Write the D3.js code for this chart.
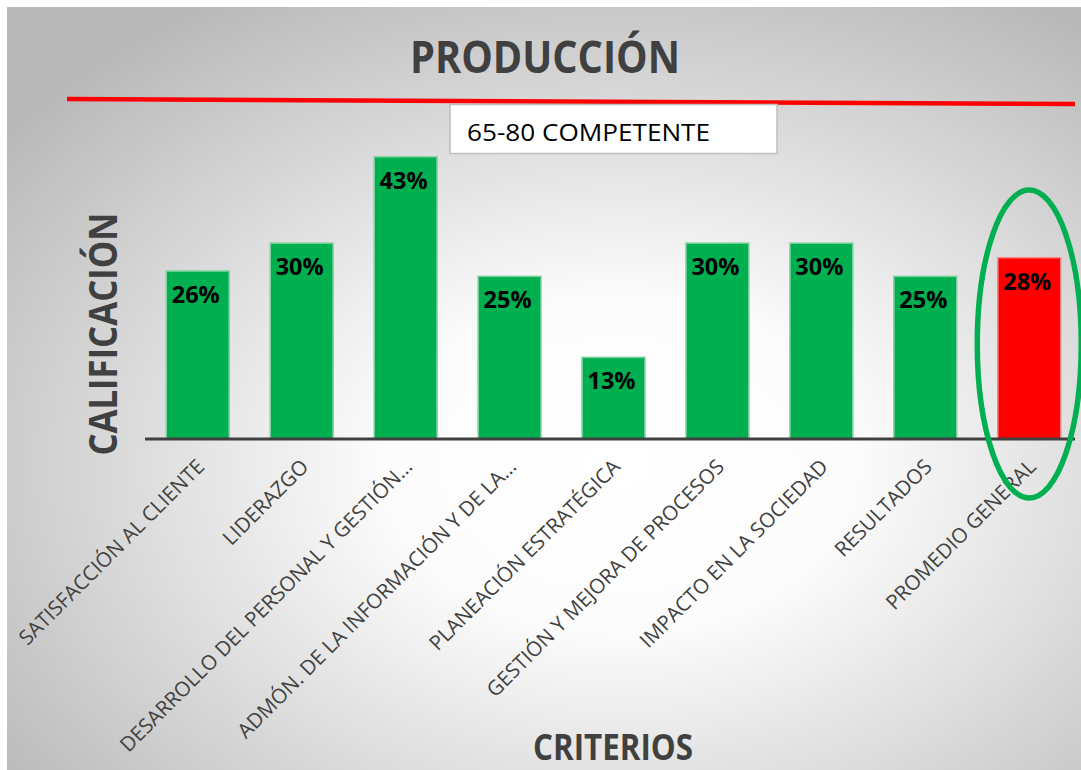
<!DOCTYPE html>
<html>
<head>
<meta charset="utf-8">
<title>PRODUCCIÓN</title>
<style>
body { margin: 0; background: #fff; }
svg { display: block; font-family: "Open Sans", sans-serif; }
.bar { stroke-width: 1.5; }
.val { font-weight: bold; font-size: 23.5px; fill: #000; }
.cat { font-family: "Open Sans", sans-serif; font-size: 20.5px; fill: #404040; }
.ttl { font-weight: bold; fill: #404040; }
</style>
</head>
<body>
<div id="chart"></div>
<script src="https://d3js.org/d3.v7.min.js"></script>
<script>

// values
const categories = [
	'SATISFACCIÓN AL CLIENTE',
	'LIDERAZGO',
	'DESARROLLO DEL PERSONAL Y GESTIÓN…',
	'ADMÓN. DE LA INFORMACIÓN Y DE LA…',
	'PLANEACIÓN ESTRATÉGICA',
	'GESTIÓN Y MEJORA DE PROCESOS',
	'IMPACTO EN LA SOCIEDAD',
	'RESULTADOS',
	'PROMEDIO GENERAL'
];
const values = [0.256, 0.298, 0.428, 0.248, 0.126, 0.298, 0.298, 0.248, 0.276];
const noteText = '65-80 COMPETENTE';

const width = 1081, height = 770;

const svg = d3.select('#chart').append('svg')
	.attr('width', width)
	.attr('height', height);

// radial grey background like the Excel chart area
const grad = svg.append('defs').append('radialGradient')
	.attr('id', 'bg')
	.attr('cx', '0.57').attr('cy', '0.6').attr('r', '0.72');
grad.append('stop').attr('offset', '0%').attr('stop-color', '#ffffff');
grad.append('stop').attr('offset', '30%').attr('stop-color', '#fcfcfc');
grad.append('stop').attr('offset', '100%').attr('stop-color', '#b8b8b8');

svg.append('rect')
	.attr('x', 7).attr('y', 7)
	.attr('width', width - 7).attr('height', height - 7)
	.attr('fill', 'url(#bg)');

// scales
const x = d3.scaleBand()
	.domain(categories)
	.range([145.5, 1081.5])
	.paddingInner(0.395)
	.paddingOuter(0.2);

const y = d3.scaleLinear()
	.domain([0, 0.5])
	.range([439, 107]);

const fmt = d3.format('.0%');
const last = categories.length - 1;

// bars
svg.selectAll('.bar')
	.data(values)
	.join('rect')
	.attr('class', 'bar')
	.attr('x', (d, i) => x(categories[i]))
	.attr('y', d => y(d) + 2)
	.attr('width', x.bandwidth())
	.attr('height', d => y(0) - y(d) - 2)
	.attr('fill', (d, i) => i === last ? '#ff0000' : '#00b050')
	.attr('stroke', (d, i) => i === last ? '#ff8080' : '#7dd3a0');

// value labels inside the bar top
svg.selectAll('.val')
	.data(values)
	.join('text')
	.attr('class', 'val')
	.attr('x', (d, i) => x(categories[i]) + x.bandwidth() / 2 - 2)
	.attr('y', d => y(d) + 34)
	.attr('text-anchor', 'middle')
	.text(d => fmt(d));

// x axis
const xAxis = svg.append('g')
	.attr('transform', `translate(0,${y(0)})`)
	.call(d3.axisBottom(x).tickSize(0).tickPadding(0))
	.attr('font-family', null)
	.attr('font-size', null);
xAxis.select('.domain')
	.attr('d', 'M145,0H1075')
	.attr('stroke', '#404040')
	.attr('stroke-width', 3);
xAxis.selectAll('.tick text')
	.attr('class', 'cat')
	.attr('fill', null)
	.attr('text-anchor', 'end')
	.attr('dy', null)
	.attr('transform', 'translate(8,29) rotate(-45)');

// titles
svg.append('text')
	.attr('class', 'ttl')
	.attr('x', 545).attr('y', 73)
	.attr('text-anchor', 'middle')
	.attr('font-size', 44)
	.attr('textLength', 270)
	.attr('lengthAdjust', 'spacingAndGlyphs')
	.text('PRODUCCIÓN');

svg.append('text')
	.attr('class', 'ttl')
	.attr('transform', 'translate(117,334) rotate(-90)')
	.attr('text-anchor', 'middle')
	.attr('font-size', 40)
	.attr('textLength', 243)
	.attr('lengthAdjust', 'spacingAndGlyphs')
	.text('CALIFICACIÓN');

svg.append('text')
	.attr('class', 'ttl')
	.attr('x', 613).attr('y', 760)
	.attr('text-anchor', 'middle')
	.attr('font-size', 36)
	.attr('textLength', 160)
	.attr('lengthAdjust', 'spacingAndGlyphs')
	.text('CRITERIOS');

// red reference line (drawn shape)
svg.append('line')
	.attr('x1', 67).attr('y1', 99)
	.attr('x2', 1075).attr('y2', 104)
	.attr('stroke', '#ff0000')
	.attr('stroke-width', 4.5);

// note box
svg.append('rect')
	.attr('x', 450).attr('y', 104.5)
	.attr('width', 327).attr('height', 49)
	.attr('fill', '#fff')
	.attr('stroke', '#bfbfbf')
	.attr('stroke-width', 1.5);

svg.append('text')
	.attr('x', 467).attr('y', 141)
	.attr('font-size', 24)
	.attr('fill', '#000')
	.attr('textLength', 243)
	.attr('lengthAdjust', 'spacingAndGlyphs')
	.text(noteText);

// green ellipse around the average bar
svg.append('ellipse')
	.attr('cx', x(categories[last]) + x.bandwidth() / 2)
	.attr('cy', 344)
	.attr('rx', 52)
	.attr('ry', 154)
	.attr('fill', 'none')
	.attr('stroke', '#00b050')
	.attr('stroke-width', 5.5);

</script>
</body>
</html>
